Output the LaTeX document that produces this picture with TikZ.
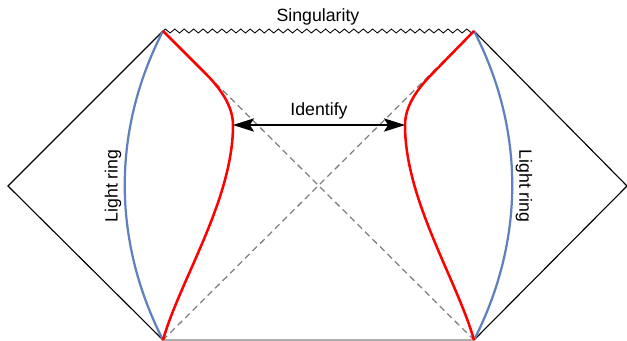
\documentclass[tikz,border=0pt]{standalone}
\usepackage{fontspec}
\setmainfont{Liberation Sans}
\usetikzlibrary{arrows.meta,decorations.pathmorphing}
\usepackage{xcolor}
\definecolor{ringblue}{RGB}{95,130,190}
\definecolor{horizon}{RGB}{128,128,128}
\definecolor{floor}{RGB}{175,175,175}

\begin{document}
\begin{tikzpicture}[
      x=0.025cm, y=-0.025cm,
      edge/.style={black, line width=0.8pt},
      zig/.style={black, line width=0.6pt, decorate,
                  decoration={zigzag, segment length=6.7pt, amplitude=1.4pt}},
      ring/.style={ringblue, line width=1.6pt},
      wall/.style={red, line width=1.8pt},
      diag/.style={horizon, line width=0.9pt, dash pattern=on 4.5pt off 3pt},
      lbl/.style={font=\fontsize{12.6}{14}\selectfont, inner sep=1pt}
    ]
      \useasboundingbox (0,0) rectangle (627,341);

      % corners of the diagram
      \coordinate (L) at (8,186);
      \coordinate (R) at (627,186);
      \coordinate (tl) at (163,31);
      \coordinate (tr) at (474,31);
      \coordinate (bl) at (163,340);
      \coordinate (br) at (474,340);

      % outer edges
      \draw[edge] (bl) -- (L) -- (tl);
      \draw[edge] (br) -- (R) -- (tr);
      \draw[zig] (tl) -- (tr);
      \draw[floor, line width=0.8pt] (bl) -- (br);

      % horizons
      \draw[diag] (tl) -- (br);
      \draw[diag] (tr) -- (bl);

      % light rings
      \draw[ring] (tl) .. controls (112,130) and (112,240) .. (bl);
      \draw[ring] (tr) .. controls (525,130) and (525,240) .. (br);

      % identified walls
      \coordinate (wl) at (233,125);
      \coordinate (wr) at (405,125);
      \draw[wall] (tl) -- (205,73) .. controls (219,87) and (233,105) .. (wl)
        .. controls (233,200) and (180,280) .. (bl);
      \draw[wall] (tr) -- (433,73) .. controls (419,87) and (405,105) .. (wr)
        .. controls (405,200) and (457,280) .. (br);

      \draw[{Stealth[length=15pt, width=9.5pt, inset=3pt]}-{Stealth[length=15pt, width=9.5pt, inset=3pt]}, line width=0.9pt]
        (wl) -- (wr) node[midway, above=3pt, lbl] (ident) {Identify};

      \node[lbl] (sing) at (318,17) {Singularity};
      \node[lbl, rotate=90] (ringl) at (113,186) {Light ring};
      \node[lbl, rotate=-90] (ringr) at (524,186) {Light ring};
    \end{tikzpicture}
\end{document}
